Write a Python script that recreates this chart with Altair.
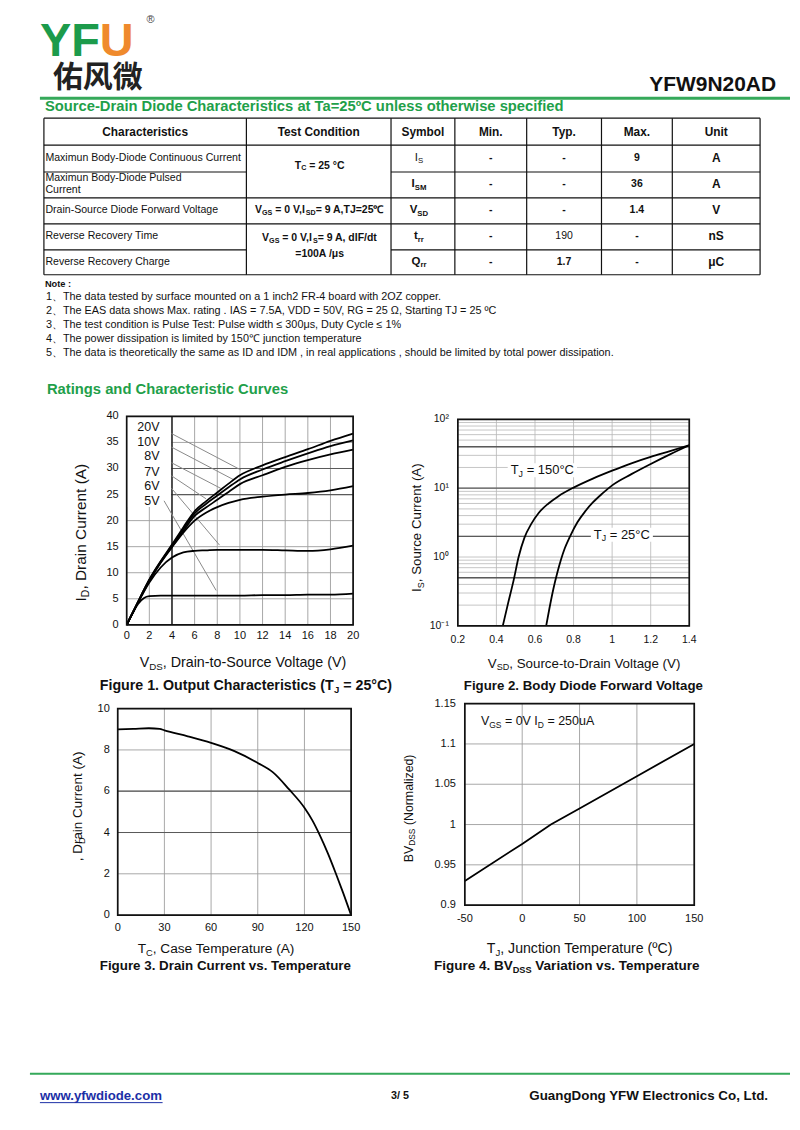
import altair as alt
import pandas as pd

# ------------------------------------------------------------------ styles
FONT = "Liberation Sans, Arial, Helvetica, sans-serif"
CJK_FONT = "Noto Sans CJK SC, sans-serif"
INK = "#111111"
GREEN_TEXT = "#1fa04a"
GREEN_LINE = "#35a95a"
LOGO_GREEN = "#1c9b4b"
LOGO_ORANGE = "#ef8a2c"
LINK_BLUE = "#1c2fa6"
GRID = "#9e9e9e"
GRID_LIGHT = "#b8b8b8"
GRID_DARK = "#5a5a5a"
LEADER = "#8a8a8a"

# ------------------------------------------------------------------ values read from the page
LOGO_LETTERS = ["YF", "U"]
LOGO_MARK = "®"
LOGO_CN = "佑风微"
PART_NO = "YFW9N20AD"
SECTION_TITLE = "Source-Drain Diode Characteristics at Ta=25ºC unless otherwise specified"

TABLE_HEAD = ["Characteristics", "Test Condition", "Symbol", "Min.", "Typ.", "Max.", "Unit"]
CHARACTERISTICS = [
    ["Maximun Body-Diode Continuous Current"],
    ["Maximun Body-Diode Pulsed", "Current"],
    ["Drain-Source Diode Forward Voltage"],
    ["Reverse Recovery Time"],
    ["Reverse Recovery Charge"],
]
COND_TC = [("T", False), ("C", True), (" = 25 °C", False)]
COND_VSD = [("V", False), ("GS", True), (" = 0 V,I", False), ("SD", True), ("= 9 A,TJ=25℃", False)]
COND_RR = [
    [("V", False), ("GS", True), (" = 0 V,I", False), ("S", True), ("= 9 A, dIF/dt", False)],
    [("=100A /μs", False)],
]
SYMBOLS = [("I", "S"), ("I", "SM"), ("V", "SD"), ("t", "rr"), ("Q", "rr")]
MIN_VALS = ["-", "-", "-", "-", "-"]
TYP_VALS = ["-", "-", "-", "190", "1.7"]
MAX_VALS = ["9", "36", "1.4", "-", "-"]
UNITS = ["A", "A", "V", "nS", "μC"]

NOTE_TITLE = "Note :"
NOTES = [
    "1、The data tested by surface mounted on a 1 inch2 FR-4 board with 2OZ copper.",
    "2、The EAS data shows Max. rating . IAS = 7.5A, VDD = 50V, RG = 25 Ω, Starting TJ = 25 ºC",
    "3、The test condition is Pulse Test: Pulse width ≤ 300μs, Duty Cycle ≤ 1%",
    "4、The power dissipation is limited by 150℃ junction temperature",
    "5、The data is theoretically the same as ID and IDM , in real applications , should be limited by total power dissipation.",
]
CURVES_TITLE = "Ratings and Characteristic Curves"

# Figure 1 - output characteristics
FIG1_XTICKS = [0, 2, 4, 6, 8, 10, 12, 14, 16, 18, 20]
FIG1_XLABELS = ["0", "2", "4", "6", "8", "10", "12", "14", "16", "18", "20"]
FIG1_YTICKS = [0, 5, 10, 15, 20, 25, 30, 35, 40]
FIG1_YLABELS = ["0", "5", "10", "15", "20", "25", "30", "35", "40"]
FIG1_VDS = [0, 0.5, 1, 1.5, 2, 3, 4, 5, 6, 7, 8, 9, 10, 12, 14, 16, 18, 20]
FIG1_ID = {
    "20V": [0, 2.2, 4.4, 6.6, 8.7, 12.2, 15.4, 18.7, 21.8, 23.7, 25.4, 27.1, 28.7, 30.6, 32.2, 33.7, 35.3, 36.7],
    "10V": [0, 2.2, 4.4, 6.6, 8.6, 12.1, 15.2, 18.4, 21.4, 23.2, 24.8, 26.4, 27.9, 29.8, 31.4, 32.9, 34.3, 35.4],
    "8V": [0, 2.2, 4.3, 6.5, 8.5, 12.0, 15.0, 18.0, 20.9, 22.5, 24.0, 25.5, 27.0, 28.7, 30.3, 31.6, 32.7, 33.6],
    "7V": [0, 2.2, 4.3, 6.4, 8.4, 11.9, 14.9, 17.7, 20.0, 21.5, 22.6, 23.4, 24.0, 24.6, 25.0, 25.3, 25.8, 26.6],
    "6V": [0, 2.2, 4.3, 6.3, 8.1, 11.0, 12.9, 13.9, 14.2, 14.3, 14.4, 14.4, 14.4, 14.4, 14.3, 14.2, 14.5, 15.2],
    "5V": [0, 2.1, 4.0, 5.1, 5.5, 5.6, 5.6, 5.6, 5.6, 5.6, 5.6, 5.6, 5.6, 5.7, 5.7, 5.8, 5.8, 6.0],
}
FIG1_LABELS = ["20V", "10V", "8V", "7V", "6V", "5V"]
FIG1_LABEL_X = 2.9
FIG1_LABEL_Y = [37.9, 35.1, 32.3, 29.4, 26.6, 23.8]
FIG1_LEADER_X1 = [3.96, 3.96, 3.96, 3.96, 3.96, 3.3]
FIG1_LEADER_Y1 = [36.7, 34.1, 31.1, 28.6, 26.2, 23.8]
FIG1_LEADER_X2 = [10.1, 9.4, 8.3, 7.0, 8.2, 7.9]
FIG1_LEADER_Y2 = [29.7, 27.9, 26.2, 24.2, 15.3, 6.6]
FIG1_LABEL_BOX = [0, 3.93, 22.6, 40]
FIG1_DARK_X = [4]
FIG1_DARK_Y = [25, 30]
FIG1_XTITLE = [("V", False), ("DS", True), (", Drain-to-Source Voltage (V)", False)]
FIG1_YTITLE = [("I", False), ("D", True), (", Drain Current (A)", False)]
FIG1_CAPTION = [("Figure 1. Output Characteristics (T", False), ("J", True), (" = 25°C)", False)]

# Figure 2 - body diode forward voltage
FIG2_XTICKS = [0.2, 0.4, 0.6, 0.8, 1.0, 1.2, 1.4]
FIG2_XLABELS = ["0.2", "0.4", "0.6", "0.8", "1", "1.2", "1.4"]
FIG2_YTICKS = [0.1, 1, 10, 100]
FIG2_YLABELS = ["10⁻¹", "10⁰", "10¹", "10²"]
FIG2_YGRID = [0.1, 0.2, 0.3, 0.4, 0.5, 0.6, 0.7, 0.8, 0.9,
              1, 2, 3, 4, 5, 6, 7, 8, 9,
              10, 20, 30, 40, 50, 60, 70, 80, 90, 100]
FIG2_DARK_Y = [0.5, 2, 10, 40]
FIG2_V150 = [0.433, 0.46, 0.49, 0.515, 0.545, 0.58, 0.62, 0.67, 0.72, 0.80, 0.90, 1.00, 1.10, 1.20, 1.30, 1.40]
FIG2_I150 = [0.1, 0.21, 0.47, 1.0, 1.9, 3.0, 4.4, 6.0, 7.6, 10.2, 13.8, 18.0, 23.0, 28.5, 34.5, 42.0]
FIG2_V25 = [0.658, 0.675, 0.695, 0.715, 0.735, 0.755, 0.78, 0.82, 0.86, 0.90, 0.95, 1.00, 1.10, 1.20, 1.30, 1.40]
FIG2_I25 = [0.1, 0.18, 0.34, 0.58, 0.92, 1.35, 1.95, 3.2, 4.6, 6.2, 8.4, 11.0, 16.0, 22.5, 31.0, 42.0]
FIG2_LABELS = [
    [("T", False), ("J", True), (" = 150°C", False)],
    [("T", False), ("J", True), (" = 25°C", False)],
]
FIG2_LABEL_X = [0.474, 0.905]
FIG2_LABEL_Y = [18.2, 2.1]
FIG2_XTITLE = [("V", False), ("SD", True), (", Source-to-Drain Voltage (V)", False)]
FIG2_YTITLE = [("I", False), ("S", True), (", Source Current (A)", False)]
FIG2_CAPTION = [("Figure 2. Body Diode Forward Voltage", False)]

# Figure 3 - drain current vs case temperature
FIG3_XTICKS = [0, 30, 60, 90, 120, 150]
FIG3_XLABELS = ["0", "30", "60", "90", "120", "150"]
FIG3_YTICKS = [0, 2, 4, 6, 8, 10]
FIG3_YLABELS = ["0", "2", "4", "6", "8", "10"]
FIG3_DARK_Y = [4, 6]
FIG3_TC = [0, 10, 20, 27, 30, 45, 60, 75, 90, 100, 110, 120, 125, 130, 135, 140, 145, 150]
FIG3_ID = [9.0, 9.02, 9.05, 9.02, 8.95, 8.66, 8.34, 7.94, 7.37, 6.9, 6.1, 5.2, 4.6, 3.85, 3.0, 2.05, 1.05, 0.0]
FIG3_XTITLE = [("T", False), ("C", True), (", Case Temperature (A)", False)]
FIG3_YTITLE = ", Drain Current (A)"
FIG3_YTITLE_OVERLAY = "D"
FIG3_CAPTION = [("Figure 3. Drain Current vs. Temperature", False)]

# Figure 4 - BVdss vs junction temperature
FIG4_XTICKS = [-50, 0, 50, 100, 150]
FIG4_XLABELS = ["-50", "0", "50", "100", "150"]
FIG4_YTICKS = [0.9, 0.95, 1.0, 1.05, 1.1, 1.15]
FIG4_YLABELS = ["0.9", "0.95", "1", "1.05", "1.1", "1.15"]
FIG4_TJ = [-50, 0, 25, 50, 100, 150]
FIG4_BV = [0.930, 0.976, 1.000, 1.020, 1.060, 1.100]
FIG4_LABEL = [("V", False), ("GS", True), (" = 0V I", False), ("D", True), (" = 250uA", False)]
FIG4_LABEL_X = -36
FIG4_LABEL_Y = 1.128
FIG4_XTITLE = [("T", False), ("J", True), (", Junction Temperature (ºC)", False)]
FIG4_YTITLE = [("BV", False), ("DSS", True), (" (Normalized)", False)]
FIG4_CAPTION = [("Figure 4. BV", False), ("DSS", True), (" Variation vs. Temperature", False)]

FOOTER_URL = "www.yfwdiode.com"
FOOTER_PAGE = "3/ 5"
FOOTER_COMPANY = "GuangDong YFW Electronics Co, Ltd."

# ------------------------------------------------------------------ text metrics (Arial-compatible, 1/1000 em)
_REG = dict(zip(" !\"#$%&'()*+,-./", [278, 278, 355, 556, 556, 889, 667, 191, 333, 333, 389, 584, 278, 333, 278, 278]))
_REG.update(dict(zip(":;<=>?@", [278, 278, 584, 584, 584, 556, 1015])))
_REG.update(dict(zip("ABCDEFGHIJKLMNOPQRSTUVWXYZ",
                     [667, 667, 722, 722, 667, 611, 778, 722, 278, 500, 667, 556, 833, 722, 778, 667, 778, 722, 667, 611, 722, 667, 944, 667, 667, 611])))
_REG.update(dict(zip("abcdefghijklmnopqrstuvwxyz",
                     [556, 556, 500, 556, 556, 278, 556, 556, 222, 222, 500, 222, 833, 556, 556, 556, 556, 333, 500, 278, 556, 500, 722, 500, 500, 500])))
_BOLD = dict(zip(" !\"#$%&'()*+,-./", [278, 333, 474, 556, 556, 889, 722, 238, 333, 333, 389, 584, 278, 333, 278, 278]))
_BOLD.update(dict(zip(":;<=>?@", [333, 333, 584, 584, 584, 611, 975])))
_BOLD.update(dict(zip("ABCDEFGHIJKLMNOPQRSTUVWXYZ",
                      [722, 722, 722, 722, 667, 611, 778, 722, 278, 556, 722, 611, 833, 722, 778, 667, 778, 722, 667, 611, 722, 667, 944, 667, 667, 611])))
_BOLD.update(dict(zip("abcdefghijklmnopqrstuvwxyz",
                      [556, 611, 556, 611, 556, 333, 611, 611, 278, 278, 556, 278, 889, 611, 611, 611, 611, 389, 556, 333, 611, 556, 778, 556, 556, 500])))
for _t in (_REG, _BOLD):
    _t.update({"°": 400, "º": 365, "μ": 580, "≤": 549, "Ω": 768, "、": 1000, "℃": 1000, "®": 737})
SUB = 0.68


def units(s, bold=False):
    tab = _BOLD if bold else _REG
    return sum(tab.get(c, 556) for c in s)


def parts_units(parts, bold=False):
    return sum(units(t, bold) * (SUB if sub else 1.0) for t, sub in parts)


def fit(parts, width, bold=False):
    if isinstance(parts, str):
        parts = [(parts, False)]
    return width * 1000.0 / parts_units(parts, bold)


# ------------------------------------------------------------------ page layout (page pixel coordinates)
ORIGIN = 8
PAGE_W, PAGE_H = 784, 1114
TABLE_X = [44, 247, 392, 456, 528, 603, 674, 762]
TABLE_Y = [117, 144, 171, 197, 223, 249, 274]
MERGED_EDGES = [2, 5]           # row edges not drawn across the merged "Test Condition" cells
FIG_BOX = {1: (127, 416, 227, 209), 2: (459, 419, 232, 207), 3: (118, 709, 234, 207), 4: (466, 704, 230, 202)}

items, rules = [], []


def add_text(t, x, y, size, bold=False, color=INK, align="left", angle=0, font=FONT, baseline="middle"):
    lead = len(t) - len(t.lstrip(" "))
    if lead and align == "left":
        adv = units(" " * lead, bold) * size / 1000.0
        if angle == 0:
            x += adv
        else:
            y -= adv
    items.append(dict(t=t.strip(" "), x=round(x - ORIGIN, 2), y=round(y - ORIGIN, 2), size=round(size, 2),
                      bold=bool(bold), color=color, align=align, angle=int(angle), font=font, baseline=baseline))


def add_parts(parts, x, y, size, bold=False, color=INK, anchor="left", angle=0):
    total = parts_units(parts, bold) * size / 1000.0
    off = {"left": 0.0, "center": -total / 2.0, "right": -total}[anchor]
    for t, sub in parts:
        s = size * SUB if sub else size
        shift = size * 0.28 if sub else 0.0
        if angle == 0:
            add_text(t, x + off, y + shift, s, bold, color, "left", 0)
        else:
            add_text(t, x + shift, y - off, s, bold, color, "left", angle)
        off += units(t, bold) * s / 1000.0


def add_rule(x1, y1, x2, y2, color=INK, width=1.0):
    rules.append(dict(x=x1 - ORIGIN, y=y1 - ORIGIN, x2=x2 - ORIGIN, y2=y2 - ORIGIN, color=color, w=width))


# header
add_text(LOGO_LETTERS[0], 40, 55, 47, True, LOGO_GREEN, baseline="alphabetic")
add_text(LOGO_LETTERS[1], 40 + units(LOGO_LETTERS[0], True) * 47 / 1000.0, 55, 47, True, LOGO_ORANGE,
         baseline="alphabetic")
add_text(LOGO_MARK, 151, 19, 11, False, "#444444", align="center")
add_text(LOGO_CN, 53, 76.5, 30, True, "#222222", font=CJK_FONT)
add_text(PART_NO, 778, 83.5, 21, True, INK, align="right")
add_rule(40, 97, 792, 97, GREEN_LINE, 3)
add_text(SECTION_TITLE, 45, 106, fit(SECTION_TITLE, 521, True), True, GREEN_TEXT)

# table
for k, yy in enumerate(TABLE_Y):
    if k in MERGED_EDGES:
        add_rule(TABLE_X[0], yy, TABLE_X[1], yy, INK, 1.2)
        add_rule(TABLE_X[2], yy, TABLE_X[-1], yy, INK, 1.2)
    else:
        add_rule(TABLE_X[0], yy, TABLE_X[-1], yy, INK, 1.2)
for xx in TABLE_X:
    add_rule(xx, TABLE_Y[0], xx, TABLE_Y[-1], INK, 1.2)
col_c = [(TABLE_X[j] + TABLE_X[j + 1]) / 2.0 for j in range(len(TABLE_X) - 1)]
row_c = [(TABLE_Y[i] + TABLE_Y[i + 1]) / 2.0 - 0.5 for i in range(1, len(TABLE_Y) - 1)]
for j, h in enumerate(TABLE_HEAD):
    add_text(h, col_c[j], (TABLE_Y[0] + TABLE_Y[1]) / 2.0, 11.9, True, align="center")
for i, lines in enumerate(CHARACTERISTICS):
    if len(lines) == 1:
        add_text(lines[0], 45.5, row_c[i], 10.6)
    else:
        for k, ln in enumerate(lines):
            add_text(ln, 45.5, row_c[i] - 6 + 12 * k, 10.6)
add_parts(COND_TC, col_c[1] + 1, 164.5, 10.5, True, anchor="center")
add_parts(COND_VSD, col_c[1] + 1, row_c[2], 10.5, True, anchor="center")
add_parts(COND_RR[0], col_c[1] + 1, 237.5, 10.5, True, anchor="center")
add_parts(COND_RR[1], col_c[1] + 1, 253, 10.5, True, anchor="center")
for i, (main, sub) in enumerate(SYMBOLS):
    add_parts([(main, False), (sub, True)], col_c[2] - 4, row_c[i], 11.5, i > 0, anchor="center")
    add_text(MIN_VALS[i], col_c[3], row_c[i], 10.5, True, align="center")
    add_text(TYP_VALS[i], col_c[4], row_c[i], 10.5, TYP_VALS[i] != "190", align="center")
    add_text(MAX_VALS[i], col_c[5], row_c[i], 10.5, True, align="center")
    add_text(UNITS[i], col_c[6], row_c[i], 12, True, align="center")

# notes
add_text(NOTE_TITLE, 45, 283, 9.3, True)
note_size = fit(NOTES[-1], 569)
for k, n in enumerate(NOTES):
    add_text(n, 46, 296 + 14 * k, note_size)
add_text(CURVES_TITLE, 47, 390, fit(CURVES_TITLE, 242, True), True, GREEN_TEXT)

# axis titles and captions of the figures
add_parts(FIG1_XTITLE, 244, 663, fit(FIG1_XTITLE, 208), anchor="center")
add_parts(FIG1_YTITLE, 81.5, 532.5, fit(FIG1_YTITLE, 138), anchor="center", angle=270)
add_parts(FIG1_CAPTION, 246.5, 686, fit(FIG1_CAPTION, 293, True), True, anchor="center")
add_parts(FIG2_XTITLE, 586, 664, fit(FIG2_XTITLE, 194), anchor="center")
add_parts(FIG2_YTITLE, 418, 527.5, fit(FIG2_YTITLE, 129), anchor="center", angle=270)
add_parts(FIG2_CAPTION, 585.5, 686, fit(FIG2_CAPTION, 241, True), True, anchor="center")
add_parts(FIG3_XTITLE, 217.5, 950, fit(FIG3_XTITLE, 159), anchor="center")
f3s = fit(FIG3_YTITLE, 110)
add_parts([(FIG3_YTITLE, False)], 78, 807, f3s, anchor="center", angle=270)
add_text(FIG3_YTITLE_OVERLAY, 78 + f3s * 0.28, 807 + 55 - units(", D") * f3s / 1000.0, f3s * SUB, angle=270)
add_parts(FIG3_CAPTION, 226.5, 967, fit(FIG3_CAPTION, 253, True), True, anchor="center")
add_parts(FIG4_XTITLE, 582, 950, fit(FIG4_XTITLE, 188), anchor="center")
add_parts(FIG4_YTITLE, 410, 809, fit(FIG4_YTITLE, 108), anchor="center", angle=270)
add_parts(FIG4_CAPTION, 569, 967, fit(FIG4_CAPTION, 268, True), True, anchor="center")

# footer
add_rule(30, 1075, 792, 1075, GREEN_LINE, 2)
url_size = fit(FOOTER_URL, 123, True)
add_text(FOOTER_URL, 40, 1097, url_size, True, LINK_BLUE)
add_rule(40, 1104, 40 + units(FOOTER_URL, True) * url_size / 1000.0, 1104, LINK_BLUE, 1)
add_text(FOOTER_PAGE, 401, 1097, 10.8, True, align="center")
add_text(FOOTER_COMPANY, 770, 1097, fit(FOOTER_COMPANY, 240, True), True, align="right")

# ------------------------------------------------------------------ page layer (texts + rules, pixel positions)
PX = alt.X("x:Q", scale=None, axis=None)
PY = alt.Y("y:Q", scale=None, axis=None)
page_layers = []
rdf = pd.DataFrame(rules)
for (color, w), g in rdf.groupby(["color", "w"]):
    page_layers.append(
        alt.Chart(g[["x", "y", "x2", "y2"]]).mark_rule(color=color, strokeWidth=float(w))
        .encode(x=PX, x2=alt.X2("x2"), y=PY, y2=alt.Y2("y2")))
tdf = pd.DataFrame(items)
for key, g in tdf.groupby(["size", "bold", "color", "align", "angle", "font", "baseline"]):
    size, bold, color, align, angle, font, baseline = key
    page_layers.append(
        alt.Chart(g[["t", "x", "y"]]).mark_text(
            fontSize=float(size), fontWeight="bold" if bool(bold) else "normal", color=color,
            align=align, angle=float(angle), font=font, baseline=baseline)
        .encode(x=PX, y=PY, text="t:N"))
page = alt.layer(*page_layers)


# ------------------------------------------------------------------ figures (own scales placed on the page)
def scales(box, xdom, ydom, ylog=False):
    x, y, w, h = box
    X = alt.X("x:Q", axis=None,
              scale=alt.Scale(domain=xdom, range=[x - ORIGIN, x - ORIGIN + w], nice=False, zero=False))
    if ylog:
        ys = alt.Scale(type="log", domain=ydom, range=[y - ORIGIN + h, y - ORIGIN], nice=False)
    else:
        ys = alt.Scale(domain=ydom, range=[y - ORIGIN + h, y - ORIGIN], nice=False, zero=False)
    return X, alt.Y("y:Q", axis=None, scale=ys)


def grid_layers(X, Y, xdom, ydom, xgrid, ygrid, color=GRID, width=0.9):
    v = pd.DataFrame({"x": xgrid, "y": [ydom[0]] * len(xgrid), "y2": [ydom[1]] * len(xgrid)})
    hz = pd.DataFrame({"y": ygrid, "x": [xdom[0]] * len(ygrid), "x2": [xdom[1]] * len(ygrid)})
    return [
        alt.Chart(v).mark_rule(color=color, strokeWidth=width).encode(x=X, y=Y, y2=alt.Y2("y2")),
        alt.Chart(hz).mark_rule(color=color, strokeWidth=width).encode(y=Y, x=X, x2=alt.X2("x2")),
    ]


def hline_layer(X, Y, xdom, yvals, color, width):
    df = pd.DataFrame({"y": yvals, "x": [xdom[0]] * len(yvals), "x2": [xdom[1]] * len(yvals)})
    return alt.Chart(df).mark_rule(color=color, strokeWidth=width).encode(y=Y, x=X, x2=alt.X2("x2"))


def tick_label_layers(X, Y, xdom, ydom, xticks, xlabels, yticks, ylabels, xpad, ypad, size):
    xl = pd.DataFrame({"x": xticks, "y": [ydom[0]] * len(xticks), "t": xlabels})
    yl = pd.DataFrame({"x": [xdom[0]] * len(yticks), "y": yticks, "t": ylabels})
    return [
        alt.Chart(xl).mark_text(align="center", baseline="top", dy=xpad, fontSize=size, font=FONT, color=INK)
        .encode(x=X, y=Y, text="t:N"),
        alt.Chart(yl).mark_text(align="right", baseline="middle", dx=-ypad, fontSize=size, font=FONT, color=INK)
        .encode(x=X, y=Y, text="t:N"),
    ]


def frame_layer(X, Y, xdom, ydom):
    df = pd.DataFrame({"x": [xdom[0]], "x2": [xdom[1]], "y": [ydom[0]], "y2": [ydom[1]]})
    return alt.Chart(df).mark_rect(filled=False, color=INK, strokeWidth=1.7).encode(
        x=X, x2=alt.X2("x2"), y=Y, y2=alt.Y2("y2"))


def label_layers(parts, x, y, size, X, Y):
    out, off = [], 0.0
    for t, sub in parts:
        s = size * SUB if sub else size
        lead = units(t[:len(t) - len(t.lstrip(" "))]) * s / 1000.0
        df = pd.DataFrame({"x": [x], "y": [y], "t": [t.strip(" ")]})
        out.append(alt.Chart(df).mark_text(align="left", baseline="middle", fontSize=s, font=FONT, color=INK,
                                           dx=off + lead, dy=size * 0.28 if sub else 0)
                   .encode(x=X, y=Y, text="t:N"))
        off += units(t) * s / 1000.0
    return out


# Figure 1
D1X, D1Y = [0, 20], [0, 40]
X1, Y1 = scales(FIG_BOX[1], D1X, D1Y)
f1 = pd.DataFrame([{"x": v, "y": i, "c": k} for k, ys in FIG1_ID.items() for v, i in zip(FIG1_VDS, ys)])
bx = FIG1_LABEL_BOX
fig1 = alt.layer(
    *grid_layers(X1, Y1, D1X, D1Y, FIG1_XTICKS, FIG1_YTICKS),
    hline_layer(X1, Y1, D1X, FIG1_DARK_Y, GRID_DARK, 1.2),
    alt.Chart(pd.DataFrame({"x": [bx[0]], "x2": [bx[1]], "y": [bx[2]], "y2": [bx[3]]})).mark_rect(color="white")
    .encode(x=X1, x2=alt.X2("x2"), y=Y1, y2=alt.Y2("y2")),
    alt.Chart(pd.DataFrame({"x": FIG1_DARK_X, "y": [D1Y[0]], "y2": [D1Y[1]]}))
    .mark_rule(color="#222222", strokeWidth=1.5).encode(x=X1, y=Y1, y2=alt.Y2("y2")),
    alt.Chart(pd.DataFrame({"x": FIG1_LEADER_X1, "y": FIG1_LEADER_Y1, "x2": FIG1_LEADER_X2, "y2": FIG1_LEADER_Y2}))
    .mark_rule(color=LEADER, strokeWidth=1).encode(x=X1, y=Y1, x2=alt.X2("x2"), y2=alt.Y2("y2")),
    alt.Chart(f1).mark_line(color="#000000", strokeWidth=1.8, interpolate="monotone")
    .encode(x=X1, y=Y1, detail="c:N"),
    alt.Chart(pd.DataFrame({"x": [FIG1_LABEL_X] * len(FIG1_LABELS), "y": FIG1_LABEL_Y, "t": FIG1_LABELS}))
    .mark_text(align="right", baseline="middle", fontSize=12.5, font=FONT, color=INK)
    .encode(x=X1, y=Y1, text="t:N"),
    *tick_label_layers(X1, Y1, D1X, D1Y, FIG1_XTICKS, FIG1_XLABELS, FIG1_YTICKS, FIG1_YLABELS, 5, 8, 11),
    frame_layer(X1, Y1, D1X, D1Y),
)

# Figure 2
D2X, D2Y = [0.2, 1.4], [0.1, 100]
X2, Y2 = scales(FIG_BOX[2], D2X, D2Y, ylog=True)
f2 = pd.DataFrame([{"x": v, "y": i, "c": "150"} for v, i in zip(FIG2_V150, FIG2_I150)] +
                  [{"x": v, "y": i, "c": "25"} for v, i in zip(FIG2_V25, FIG2_I25)])
ppv = FIG_BOX[2][2] / (D2X[1] - D2X[0])
ppd = FIG_BOX[2][3] / 3.0
box_rows = []
for parts, lx, ly in zip(FIG2_LABELS, FIG2_LABEL_X, FIG2_LABEL_Y):
    wpx = parts_units(parts) * 13 / 1000.0
    box_rows.append({"x": lx - 3 / ppv, "x2": lx + (wpx + 3) / ppv,
                     "y": ly * 10 ** (-7 / ppd), "y2": ly * 10 ** (7 / ppd)})
fig2_layers = grid_layers(X2, Y2, D2X, D2Y, FIG2_XTICKS, FIG2_YGRID, GRID_LIGHT, 0.8)
fig2_layers += [
    hline_layer(X2, Y2, D2X, FIG2_DARK_Y, GRID_DARK, 1.3),
    alt.Chart(pd.DataFrame(box_rows)).mark_rect(color="white")
    .encode(x=X2, x2=alt.X2("x2"), y=Y2, y2=alt.Y2("y2")),
    alt.Chart(f2).mark_line(color="#000000", strokeWidth=1.8, interpolate="monotone")
    .encode(x=X2, y=Y2, detail="c:N"),
]
for parts, lx, ly in zip(FIG2_LABELS, FIG2_LABEL_X, FIG2_LABEL_Y):
    fig2_layers += label_layers(parts, lx, ly, 13, X2, Y2)
fig2_layers += tick_label_layers(X2, Y2, D2X, D2Y, FIG2_XTICKS, FIG2_XLABELS, FIG2_YTICKS, FIG2_YLABELS, 9, 9, 10.5)
fig2_layers.append(frame_layer(X2, Y2, D2X, D2Y))
fig2 = alt.layer(*fig2_layers)

# Figure 3
D3X, D3Y = [0, 150], [0, 10]
X3, Y3 = scales(FIG_BOX[3], D3X, D3Y)
fig3 = alt.layer(
    *grid_layers(X3, Y3, D3X, D3Y, FIG3_XTICKS, FIG3_YTICKS),
    hline_layer(X3, Y3, D3X, FIG3_DARK_Y, GRID_DARK, 1.2),
    alt.Chart(pd.DataFrame({"x": FIG3_TC, "y": FIG3_ID}))
    .mark_line(color="#000000", strokeWidth=1.8, interpolate="monotone").encode(x=X3, y=Y3),
    *tick_label_layers(X3, Y3, D3X, D3Y, FIG3_XTICKS, FIG3_XLABELS, FIG3_YTICKS, FIG3_YLABELS, 7, 8, 11),
    frame_layer(X3, Y3, D3X, D3Y),
)

# Figure 4
D4X, D4Y = [-50, 150], [0.9, 1.15]
X4, Y4 = scales(FIG_BOX[4], D4X, D4Y)
fig4 = alt.layer(
    *grid_layers(X4, Y4, D4X, D4Y, FIG4_XTICKS, FIG4_YTICKS),
    alt.Chart(pd.DataFrame({"x": FIG4_TJ, "y": FIG4_BV})).mark_line(color="#000000", strokeWidth=1.8)
    .encode(x=X4, y=Y4),
    *label_layers(FIG4_LABEL, FIG4_LABEL_X, FIG4_LABEL_Y, 12.5, X4, Y4),
    *tick_label_layers(X4, Y4, D4X, D4Y, FIG4_XTICKS, FIG4_XLABELS, FIG4_YTICKS, FIG4_YLABELS, 8, 9, 11),
    frame_layer(X4, Y4, D4X, D4Y),
)

# ------------------------------------------------------------------ one page-sized view
chart = alt.layer(page, fig1, fig2, fig3, fig4).resolve_scale(
    x="independent", y="independent").properties(
    width=PAGE_W, height=PAGE_H, padding=0).configure_view(strokeWidth=0)

chart.save("out.html", embed_options={"renderer": "svg", "actions": False})
